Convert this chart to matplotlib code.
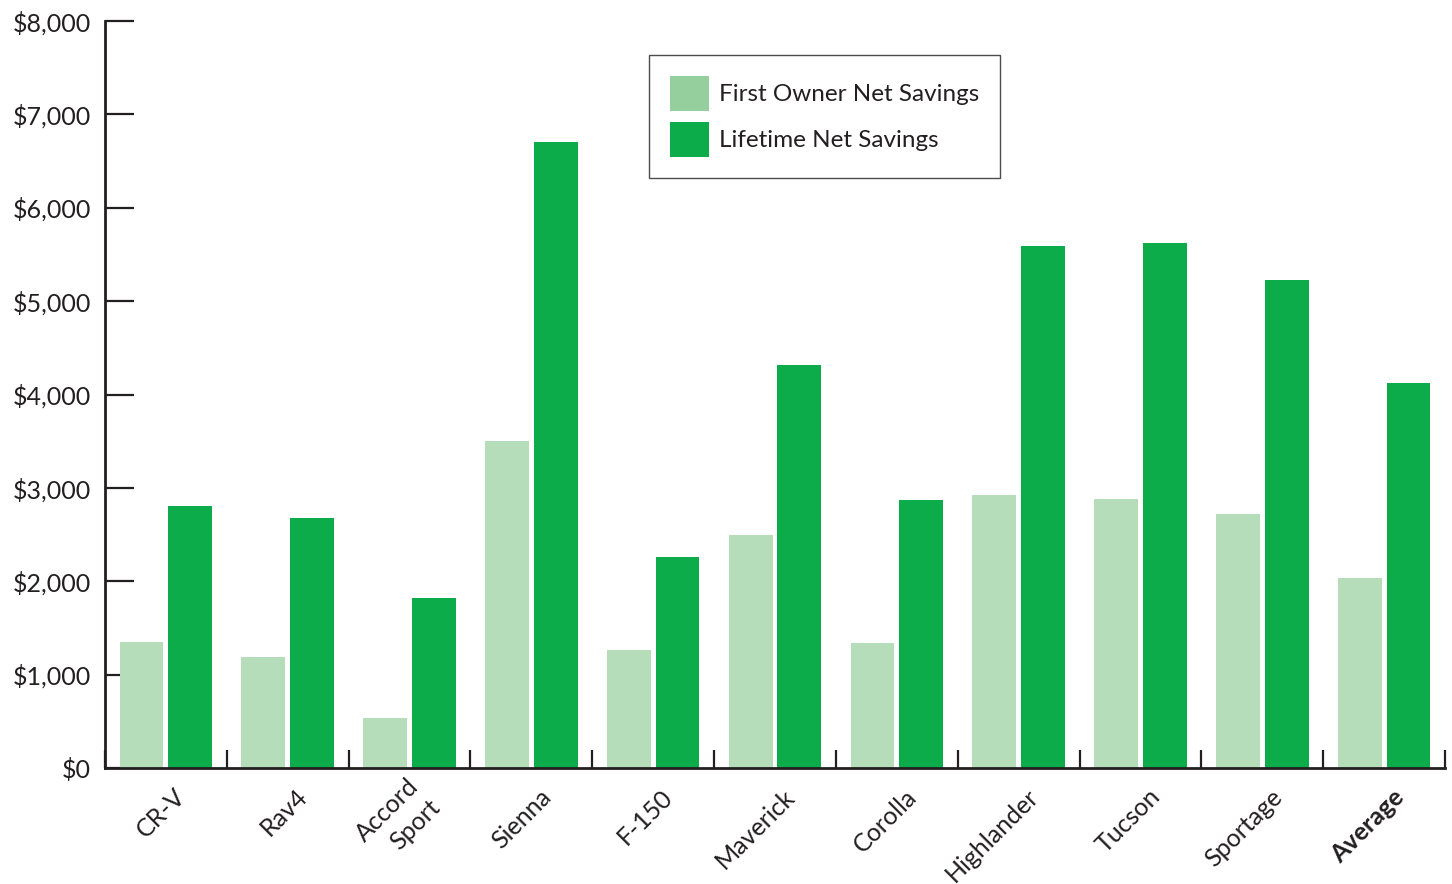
import matplotlib
matplotlib.use("Agg")
import matplotlib.pyplot as plt
from matplotlib.patches import Patch
from matplotlib.transforms import ScaledTranslation
import numpy as np

categories = ["CR-V", "Rav4", "Accord\nSport", "Sienna", "F-150", "Maverick",
              "Corolla", "Highlander", "Tucson", "Sportage", "Average"]
first_owner = [1350, 1190, 535, 3500, 1265, 2495, 1340, 2925, 2880, 2720, 2035]
lifetime = [2805, 2680, 1820, 6700, 2260, 4315, 2870, 5590, 5620, 5225, 4120]
yticks = [0, 1000, 2000, 3000, 4000, 5000, 6000, 7000, 8000]
ytick_labels = ["$0", "$1,000", "$2,000", "$3,000", "$4,000", "$5,000",
                "$6,000", "$7,000", "$8,000"]
series_labels = ["First Owner Net Savings", "Lifetime Net Savings"]

light = "#b5ddb9"
light_legend = "#96cf9e"
dark = "#0dac4a"
ink = "#231f20"

plt.rcParams["font.family"] = ["Lato", "DejaVu Sans"]

fig = plt.figure(figsize=(14.52, 8.84), dpi=100)
ax = fig.add_axes([105 / 1452, 1 - 768 / 884, 1340 / 1452, 747 / 884])

x = np.arange(len(categories))
w = 0.36
ax.bar(x - 0.2, first_owner, width=w, color=light, zorder=2)
ax.bar(x + 0.2, lifetime, width=w, color=dark, zorder=2)

ax.set_xlim(-0.5, len(categories) - 0.5)
ax.set_ylim(0, 8000)
ax.set_yticks(yticks)
ax.set_yticklabels(ytick_labels)

ax.set_xticks(x)
ax.set_xticklabels([""] * len(categories))
ax.set_xticks(np.arange(-0.5, len(categories)), minor=True)

for s in ["top", "right"]:
    ax.spines[s].set_visible(False)
for s in ["left", "bottom"]:
    ax.spines[s].set_linewidth(2.0)
    ax.spines[s].set_color(ink)
    ax.spines[s].set_zorder(3)

ax.tick_params(axis="y", direction="in", length=21, width=1.6, color=ink,
               labelsize=18, labelcolor=ink, pad=10)
ax.tick_params(axis="x", which="major", length=0)
ax.tick_params(axis="x", which="minor", direction="in", length=13,
               width=1.6, color=ink)

# rotated category labels, right end anchored just right of each category
offset = ScaledTranslation(16 / 100, -25 / 100, fig.dpi_scale_trans)
for xi, cat in zip(x, categories):
    ax.text(xi, 0, cat, transform=ax.get_xaxis_transform() + offset,
            rotation=45, rotation_mode="anchor", ha="right", va="center",
            multialignment="right", linespacing=1.35, fontsize=18,
            color=ink, fontweight="bold" if cat == "Average" else "normal",
            clip_on=False)

handles = [Patch(facecolor=light_legend, edgecolor="none"),
           Patch(facecolor=dark, edgecolor="none")]
leg = ax.legend(handles, series_labels, loc="upper left",
                bbox_to_anchor=(544 / 1340, (768 - 55) / 747),
                borderaxespad=0, fontsize=17.5, frameon=True, fancybox=False,
                handlelength=1.6, handleheight=1.85, handletextpad=0.42,
                labelspacing=0.45, borderpad=0.85, labelcolor=ink)
leg.get_frame().set_edgecolor(ink)
leg.get_frame().set_linewidth(1.0)

fig.savefig("out.png", dpi=100)
